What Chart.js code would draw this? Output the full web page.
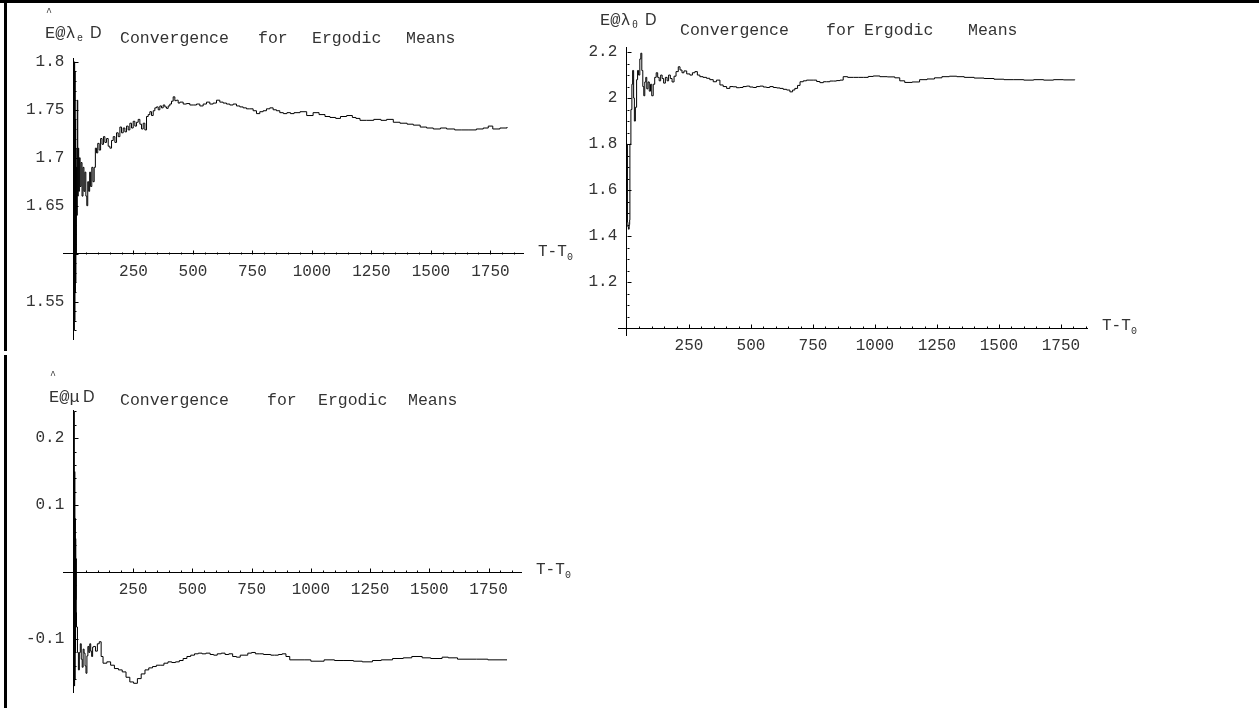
<!DOCTYPE html>
<html lang="en">
<head>
<meta charset="UTF-8">
<title>Convergence for Ergodic Means</title>
<script src="https://cdn.jsdelivr.net/npm/chart.js"></script>
<style>
  html, body { margin: 0; padding: 0; background: #fff; }
  body { width: 1259px; height: 708px; position: relative; overflow: hidden; }
  canvas.panel { position: absolute; left: 0; top: 0; }
  .frame { position: absolute; background: #000; }
</style>
</head>
<body>
<canvas id="lambdaE" class="panel" width="1259" height="708"></canvas>
<canvas id="lambdaTheta" class="panel" width="1259" height="708"></canvas>
<canvas id="mu" class="panel" width="1259" height="708"></canvas>
<div class="frame" style="left:0;top:0;width:1259px;height:3px"></div>
<div class="frame" style="left:4px;top:0;width:3px;height:351px"></div>
<div class="frame" style="left:4px;top:355px;width:3px;height:353px"></div>

<script>
// running (ergodic) means against T - T0
const tLambdaE = [1, 2, 3, 4, 5, 6, 7, 8, 9, 10, 12, 14, 16, 18, 20, 23, 26, 30, 34, 38, 42, 46, 50, 54, 58, 62, 66, 70, 75, 80, 85, 90, 95, 100,
  106, 112, 118, 124, 130, 137, 144, 151, 158, 165, 172, 179, 186, 193, 200, 207, 214, 221, 228, 235, 242, 249, 256, 263, 270, 277,
  284, 291, 298, 305, 312, 319, 326, 333, 340, 347, 354, 361, 368, 375, 382, 389, 396, 403, 410, 417, 424, 431, 438, 445, 459, 473,
  487, 501, 515, 529, 543, 557, 571, 585, 599, 613, 627, 641, 655, 669, 683, 697, 711, 725, 739, 753, 767, 781, 795, 809, 823, 837,
  851, 865, 880, 895, 910, 925, 950, 978, 1005, 1030, 1055, 1076, 1100, 1120, 1146, 1170, 1185, 1202, 1230, 1260, 1290, 1314, 1342,
  1370, 1400, 1426, 1455, 1482, 1510, 1540, 1566, 1600, 1630, 1660, 1691, 1720, 1741, 1760, 1790, 1820];
const meanLambdaE = [1.52, 1.80, 1.53, 1.79, 1.56, 1.74, 1.57, 1.71, 1.60, 1.69, 1.64, 1.76, 1.66, 1.71, 1.665, 1.70, 1.67, 1.695, 1.66, 1.69, 1.665, 1.685, 1.66, 1.65, 1.675, 1.665, 1.685, 1.67, 1.69, 1.675, 1.69, 1.71, 1.705, 1.715,
  1.708, 1.72, 1.714, 1.722, 1.716, 1.72, 1.712, 1.71, 1.718, 1.722, 1.716, 1.726, 1.722, 1.732, 1.726, 1.731, 1.727, 1.733, 1.729, 1.736, 1.731, 1.738, 1.733, 1.737, 1.74, 1.735,
  1.73, 1.736, 1.729, 1.743, 1.745, 1.748, 1.744, 1.749, 1.752, 1.753, 1.75, 1.754, 1.752, 1.755, 1.753, 1.7515, 1.754, 1.756, 1.759, 1.7635, 1.7595, 1.760, 1.757, 1.758, 1.756, 1.7565,
  1.755, 1.755, 1.756, 1.754, 1.756, 1.758, 1.756, 1.757, 1.760, 1.758, 1.757, 1.756, 1.755, 1.756, 1.754, 1.753, 1.752, 1.751, 1.751, 1.749, 1.746, 1.748, 1.749, 1.751, 1.752, 1.750,
  1.749, 1.747, 1.746, 1.747, 1.746, 1.747, 1.748, 1.744, 1.747, 1.745, 1.743, 1.742, 1.741, 1.743, 1.744, 1.742, 1.741, 1.739, 1.739, 1.740, 1.739, 1.740, 1.737,
  1.736, 1.735, 1.734, 1.732, 1.731, 1.730, 1.731, 1.730, 1.729, 1.729, 1.729, 1.730, 1.731, 1.733, 1.730, 1.731, 1.732];

const tLambdaTheta = [1, 2, 4, 6, 9, 11, 12, 16, 20, 23, 27, 30, 34, 39, 43, 47, 52, 56, 60, 64, 68, 72, 76, 80, 85, 90, 95, 100,
  106, 112, 118, 124, 130, 136, 142, 148, 155, 162, 168, 175, 182, 190, 198, 207, 214, 222, 230, 241, 254, 264, 274, 284, 294, 307,
  321, 334, 348, 361, 375, 388, 402, 415, 428, 442, 455, 468, 482, 495, 509, 522, 536, 550, 563, 576, 590, 604, 617, 630, 644, 657,
  668, 677, 688, 698, 711, 724, 738, 751, 765, 778, 792, 805, 818, 832, 845, 859, 872, 890, 913, 933, 953, 973, 993, 1020, 1050,
  1080, 1100, 1120, 1150, 1180, 1210, 1240, 1270, 1300, 1330, 1360, 1400, 1440, 1480, 1520, 1560, 1600, 1640, 1680, 1720, 1760, 1806];
const meanLambdaTheta = [1.80, 1.46, 1.44, 1.43, 1.45, 1.47, 1.80, 1.95, 2.06, 2.12, 2.00, 1.90, 1.96, 2.08, 2.12, 2.10, 2.17, 2.195, 2.12, 2.05, 2.01, 2.07, 2.09, 2.04, 2.07, 2.03, 2.06, 2.01,
  2.06, 2.09, 2.11, 2.09, 2.075, 2.10, 2.085, 2.065, 2.09, 2.075, 2.10, 2.085, 2.07, 2.095, 2.115, 2.136, 2.122, 2.11, 2.118, 2.105, 2.10, 2.11, 2.115, 2.10, 2.093, 2.09,
  2.086, 2.08, 2.071, 2.078, 2.057, 2.05, 2.042, 2.05, 2.049, 2.045, 2.046, 2.05, 2.052, 2.048, 2.046, 2.05, 2.052, 2.048, 2.046, 2.05, 2.046, 2.044, 2.042, 2.038, 2.035, 2.027,
  2.035, 2.042, 2.055, 2.071, 2.075, 2.078, 2.078, 2.078, 2.072, 2.067, 2.071, 2.071, 2.074, 2.074, 2.076, 2.078, 2.093, 2.09, 2.09, 2.09, 2.09, 2.094, 2.096, 2.093, 2.092,
  2.088, 2.075, 2.068, 2.07, 2.08, 2.083, 2.088, 2.093, 2.095, 2.093, 2.09, 2.087, 2.085, 2.082, 2.08, 2.08, 2.078, 2.08, 2.078, 2.08, 2.079, 2.08];

const tMu = [1, 2, 3, 4, 5, 6, 7, 8, 9, 10, 11, 15, 19, 23, 27, 31, 35, 39, 43, 47, 51, 55, 59, 63, 67, 71, 75, 79, 83, 91, 99, 107, 115,
  123, 139, 155, 171, 188, 204, 220, 236, 252, 268, 284, 300, 316, 332, 348, 364, 380, 397, 413, 429, 445, 461, 477, 493, 509, 525,
  541, 557, 575, 590, 605, 622, 638, 654, 670, 686, 702, 718, 734, 750, 766, 782, 800, 815, 831, 847, 863, 879, 895, 911, 975, 1000,
  1056, 1100, 1136, 1180, 1217, 1260, 1297, 1345, 1390, 1426, 1470, 1506, 1554, 1580, 1619, 1700, 1747, 1828];
const meanMu = [0.24, -0.17, 0.15, -0.16, 0.08, -0.12, 0.05, -0.04, 0.02, -0.06, -0.082, -0.12, -0.146, -0.12, -0.107, -0.13, -0.142, -0.115, -0.121, -0.14, -0.151, -0.125, -0.111, -0.12, -0.107, -0.118, -0.126, -0.112, -0.111, -0.118, -0.107, -0.104, -0.126,
  -0.136, -0.134, -0.139, -0.144, -0.146, -0.149, -0.157, -0.164, -0.166, -0.159, -0.152, -0.146, -0.143, -0.141, -0.139, -0.139, -0.136, -0.134, -0.135, -0.134, -0.132, -0.129, -0.126, -0.124, -0.122, -0.121,
  -0.122, -0.121, -0.123, -0.124, -0.122, -0.121, -0.123, -0.122, -0.126, -0.127, -0.124, -0.124, -0.121, -0.12, -0.122, -0.122, -0.123, -0.123, -0.124, -0.124, -0.123, -0.122, -0.126, -0.131, -0.131, -0.133,
  -0.131, -0.132, -0.132, -0.133, -0.134, -0.132, -0.131, -0.129, -0.128, -0.126, -0.128, -0.129, -0.127, -0.128, -0.13, -0.13, -0.131, -0.131];

// tick labels
const xTickValues = [250, 500, 750, 1000, 1250, 1500, 1750];
const yTicksLambdaE = [1.55, 1.65, 1.7, 1.75, 1.8];
const yTicksLambdaTheta = [1.2, 1.4, 1.6, 1.8, 2, 2.2];
const yTicksMu = [-0.1, 0.1, 0.2];

const MONO = '"Liberation Mono", "Courier New", monospace';
const SANS = '"Liberation Sans", Arial, sans-serif';
const INK = '#333';

// Mathematica-style tick marks pointing into the plot, major and minor
const inwardTicks = {
  id: 'inwardTicks',
  afterDraw(chart, args, opts) {
    const {ctx, scales: {x, y}} = chart;
    const x0 = Math.round(x.getPixelForValue(0)) + 0.5;
    const yc = Math.round(y.getPixelForValue(opts.cross)) + 0.5;
    ctx.save();
    ctx.strokeStyle = '#000';
    ctx.lineWidth = 1;
    ctx.beginPath();
    for (let v = opts.xMinor; v <= x.max; v += opts.xMinor) {
      const px = Math.round(x.getPixelForValue(v)) + 0.5;
      const len = v % opts.xMajor === 0 ? 4 : 2;
      ctx.moveTo(px, yc);
      ctx.lineTo(px, yc - len);
    }
    const k0 = Math.ceil(y.min / opts.yMinor - 1e-9);
    const k1 = Math.floor(y.max / opts.yMinor + 1e-9);
    for (let k = k0; k <= k1; k++) {
      const v = k * opts.yMinor;
      const r = v / opts.yMajor;
      const major = Math.abs(r - Math.round(r)) < 1e-6;
      const py = Math.round(y.getPixelForValue(v)) + 0.5;
      ctx.moveTo(x0, py);
      ctx.lineTo(x0 + (major ? 4 : 2), py);
    }
    ctx.stroke();
    ctx.restore();
  }
};

// plot label, vertical axis label and the T-T0 label at the end of the time axis
const panelText = {
  id: 'panelText',
  afterDraw(chart, args, opts) {
    const {ctx, chartArea, scales: {y}} = chart;
    ctx.save();
    ctx.fillStyle = INK;
    ctx.textBaseline = 'alphabetic';
    ctx.textAlign = 'left';
    for (const p of opts.items) {
      ctx.font = p.font;
      ctx.fillText(p.text, p.x, p.y);
    }
    const yc = y.getPixelForValue(opts.cross);
    const lx = chartArea.right + 15;
    ctx.font = '16px ' + MONO;
    ctx.fillText('T-T', lx, yc + 2);
    ctx.font = '10px ' + MONO;
    ctx.fillText('0', lx + 29, yc + 6);
    ctx.restore();
  }
};

function titleItems(hat, label, sub, subX, dX, y, words, wy) {
  const items = [
    {text: '^', x: hat[0], y: hat[1], font: '10px ' + MONO},
    {text: label, x: hat[0] - 1, y: y, font: '17px ' + MONO},
    {text: 'D', x: dX, y: y, font: '16px ' + SANS}
  ];
  if (sub) items.push({text: sub, x: subX, y: y + 3, font: '10px ' + MONO});
  for (const w of words) items.push({text: w[0], x: w[1], y: wy, font: '16.5px ' + MONO});
  return items;
}

function makePanel(id, t, v, cfg) {
  const fmt = val => String(Math.round(val * 1000) / 1000);
  return new Chart(document.getElementById(id), {
    type: 'line',
    data: {
      datasets: [{
        data: t.map((ti, i) => ({x: ti, y: v[i]})),
        borderColor: '#000',
        borderWidth: 1,
        pointRadius: 0,
        stepped: true,
        fill: false
      }]
    },
    options: {
      responsive: false,
      animation: false,
      events: [],
      layout: {padding: cfg.padding, autoPadding: false},
      plugins: {
        legend: {display: false},
        tooltip: {enabled: false},
        inwardTicks: {cross: cfg.cross, xMinor: 50, xMajor: 250, yMinor: cfg.yMinor, yMajor: cfg.yMajor},
        panelText: {cross: cfg.cross, items: cfg.titles}
      },
      scales: {
        x: {
          type: 'linear',
          min: cfg.xMin,
          max: cfg.xMax,
          position: {y: cfg.cross},
          border: {display: true, color: '#000', width: 1},
          grid: {drawOnChartArea: false, drawTicks: false},
          afterBuildTicks: axis => { axis.ticks = xTickValues.map(val => ({value: val})); },
          ticks: {autoSkip: false, maxRotation: 0, padding: 10, color: INK,
            font: {family: MONO, size: 16, lineHeight: 1}, callback: fmt}
        },
        y: {
          type: 'linear',
          min: cfg.yMin,
          max: cfg.yMax,
          position: {x: 0},
          border: {display: true, color: '#000', width: 1},
          grid: {drawOnChartArea: false, drawTicks: false},
          afterBuildTicks: axis => { axis.ticks = cfg.yTicks.map(val => ({value: val})); },
          // trailing space keeps the right-aligned labels clear of the axis line
          ticks: {autoSkip: false, padding: 7, color: INK,
            font: {family: MONO, size: 16, lineHeight: 1}, callback: val => fmt(val) + ' '}
        }
      }
    },
    plugins: [inwardTicks, panelText]
  });
}

makePanel('lambdaE', tLambdaE, meanLambdaE, {
  padding: {left: 63, right: 736, top: 58, bottom: 369},
  xMin: -46, xMax: 1887, yMin: 1.511, yMax: 1.804, cross: 1.6,
  yTicks: yTicksLambdaE, yMinor: 0.01, yMajor: 0.05,
  titles: titleItems([46, 15], 'E@λ', 'e', 77, 90, 38,
    [['Convergence', 120], ['for', 258], ['Ergodic', 312], ['Means', 406]], 43)
});

makePanel('lambdaTheta', tLambdaTheta, meanLambdaTheta, {
  padding: {left: 618, right: 172, top: 47, bottom: 373},
  xMin: -36, xMax: 1855, yMin: 0.97, yMax: 2.222, cross: 1.0,
  yTicks: yTicksLambdaTheta, yMinor: 0.05, yMajor: 0.2,
  titles: titleItems([601, 4], 'E@λ', 'θ', 632, 645, 25,
    [['Convergence', 680], ['for', 826], ['Ergodic', 864], ['Means', 968]], 35)
});

makePanel('mu', tMu, meanMu, {
  padding: {left: 63, right: 738, top: 410, bottom: 16},
  xMin: -46, xMax: 1887, yMin: -0.179, yMax: 0.242, cross: 0,
  yTicks: yTicksMu, yMinor: 0.02, yMajor: 0.1,
  titles: titleItems([50, 378], 'E@μ', '', 0, 83, 402,
    [['Convergence', 120], ['for', 267], ['Ergodic', 318], ['Means', 408]], 405)
});
</script>
</body>
</html>
